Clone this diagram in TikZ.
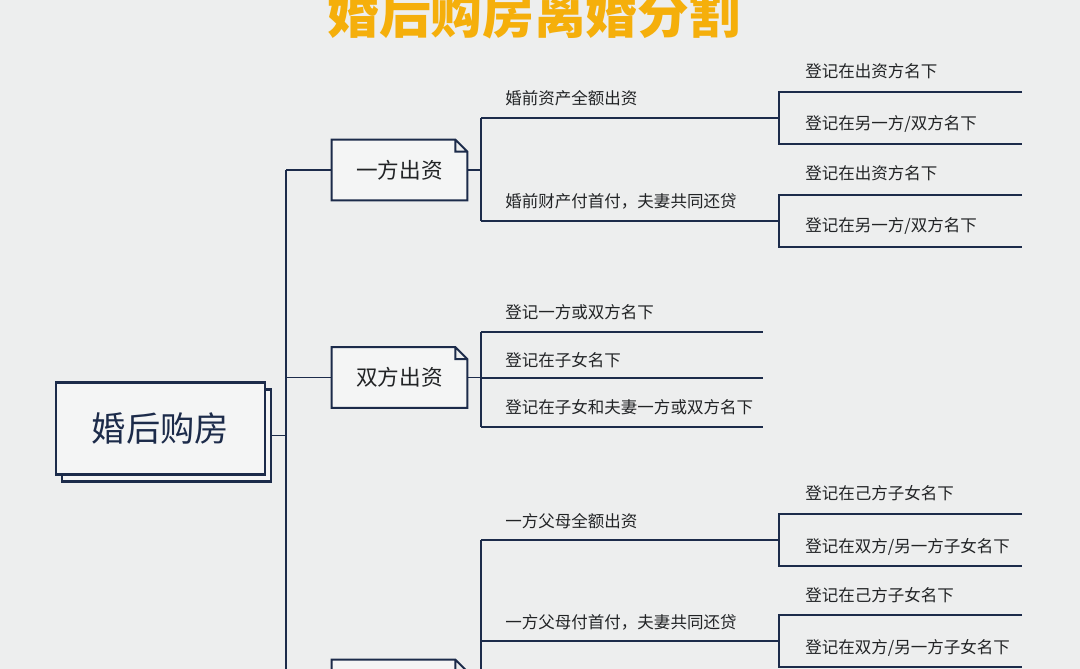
\documentclass[tikz,border=0pt]{standalone}
\usepackage{fontspec}
\newfontfamily\cjk{Noto Sans CJK SC}
\usetikzlibrary{shadows}
\definecolor{navy}{HTML}{1C2B4A}
\definecolor{bgc}{HTML}{EDEEEE}
\definecolor{boxc}{HTML}{F4F5F5}
\definecolor{gold}{HTML}{F5AF0B}
\definecolor{ink}{HTML}{222426}
\pgfdeclarelayer{back}
\pgfsetlayers{back,main}
\tikzset{
  wire/.style={navy, line width=1.1pt},
  rootbox/.style={draw=navy, line width=1.4pt, fill=boxc, minimum width=4.18cm, minimum height=1.84cm,
    font=\cjk\fontsize{19.5}{22}\selectfont, text=navy, copy shadow={shadow xshift=0.12cm, shadow yshift=-0.14cm}},
  midbox/.style={minimum width=2.7cm, minimum height=1.2cm, font=\cjk\fontsize{12.3}{14}\selectfont, text=ink},
  lbl/.style={anchor=base west, inner sep=0pt, font=\cjk\fontsize{9.4}{11}\selectfont, text=ink},
}
\begin{document}
\begin{tikzpicture}[x=0.02cm, y=-0.02cm]
\useasboundingbox (0,0) rectangle (1080,669);
\clip (0,0) rectangle (1080,669);
\node[font=\cjk\bfseries\fontsize{29.4}{32}\selectfont, text=gold] (title) at (534,14) {婚后购房离婚分割};
\node[rootbox] (root) at (160.5,428.5) {婚后购房};
\node[midbox] (ofund) at (399.5,170) {一方出资};
\node[midbox] (bfund) at (399.5,377.5) {双方出资};
\node[midbox] (pfund) at (399.5,690) {};
\begin{pgfonlayer}{back}
\fill[bgc] (0,0) rectangle (1080,669);
\foreach \b in {ofund,bfund,pfund}
  \filldraw[wire, fill=boxc] (\b.north west) -- ([xshift=-0.24cm]\b.north east) -- ([yshift=-0.24cm]\b.north east)
    -- (\b.south east) -- (\b.south west) -- cycle
    ([xshift=-0.24cm]\b.north east) |- ([yshift=-0.24cm]\b.north east);
\end{pgfonlayer}
\coordinate (sptop) at (286,170);
\coordinate (spbot) at (286,730);
\coordinate (rootsh) at ([shift={(0.12cm,-0.14cm)}]root.east);
\draw[wire] (sptop) -- (spbot);
\draw[wire] (rootsh) -- (sptop |- rootsh);
\foreach \b in {ofund,bfund,pfund}
  \draw[wire] (sptop |- \b.west) -- (\b.west);
\coordinate (ja) at (481,170);
\coordinate (jb) at (481,377.5);
\coordinate (jc) at (481,690);
\draw[wire] (ofund.east) -- (ja);
\draw[wire] (bfund.east) -- (jb);
\draw[wire] (pfund.east) -- (jc);
\coordinate (ja1) at (481,118);
\coordinate (ja2) at (481,221);
\coordinate (jb1) at (481,332);
\coordinate (jb3) at (481,427);
\coordinate (jc1) at (481,540);
\coordinate (jc9) at (481,760);
\draw[wire] (ja1) -- (ja2);
\draw[wire] (jb1) -- (jb3);
\draw[wire] (jc1) -- (jc9);
\foreach \n/\y in {a1/118, a2/221, c1/540, c2/641} {
  \coordinate (s\n) at (481,\y);
  \coordinate (k\n) at (779,\y);
  \coordinate (k\n t) at (779,\y-26);
  \coordinate (k\n b) at (779,\y+26);
  \coordinate (e\n t) at (1022,\y-26);
  \coordinate (e\n b) at (1022,\y+26);
  \draw[wire] (s\n) -- (k\n);
  \draw[wire] (e\n t) -- (k\n t) -- (k\n b) -- (e\n b);
}
\foreach \n/\y in {b1/332, b2/378, b3/427} {
  \coordinate (s\n) at (481,\y);
  \coordinate (e\n) at (763,\y);
  \draw[wire] (s\n) -- (e\n);
}
\node[lbl] (la1) at (505,105) {婚前资产全额出资};
\node[lbl] (la2) at (505,208) {婚前财产付首付，夫妻共同还贷};
\node[lbl] (la1t) at (805,78) {登记在出资方名下};
\node[lbl] (la1b) at (805,130) {登记在另一方/双方名下};
\node[lbl] (la2t) at (805,180) {登记在出资方名下};
\node[lbl] (la2b) at (805,232) {登记在另一方/双方名下};
\node[lbl] (lb1) at (505,318) {登记一方或双方名下};
\node[lbl] (lb2) at (505,366) {登记在子女名下};
\node[lbl] (lb3) at (505,414) {登记在子女和夫妻一方或双方名下};
\node[lbl] (lc1) at (505,527) {一方父母全额出资};
\node[lbl] (lc2) at (505,628) {一方父母付首付，夫妻共同还贷};
\node[lbl] (lc1t) at (805,500) {登记在己方子女名下};
\node[lbl] (lc1b) at (805,552) {登记在双方/另一方子女名下};
\node[lbl] (lc2t) at (805,601) {登记在己方子女名下};
\node[lbl] (lc2b) at (805,653) {登记在双方/另一方子女名下};
\end{tikzpicture}
\end{document}
